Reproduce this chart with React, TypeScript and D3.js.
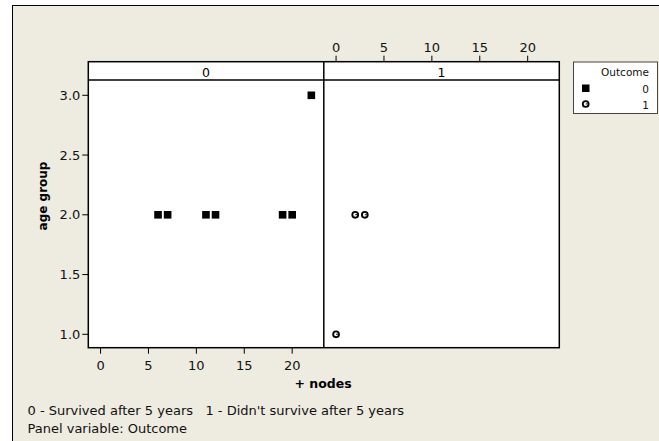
import React from 'react'
import * as d3 from 'd3'

// panel 0 = Outcome 0 (survived), panel 1 = Outcome 1
const panels = ['0', '1']
const nodes0 = [6, 7, 11, 12, 19, 20, 22]
const age0 = [2, 2, 2, 2, 2, 2, 3]
const nodes1 = [2, 3, 0]
const age1 = [2, 2, 1]
const xTicks = [0, 5, 10, 15, 20]
const yTicks = [1.0, 1.5, 2.0, 2.5, 3.0]
const footLines = ["0 - Survived after 5 years   1 - Didn't survive after 5 years", 'Panel variable: Outcome']

const W = 659
const H = 441
const font = '"DejaVu Sans", Verdana, sans-serif'
const bg = '#eeebe1'

const Circ = ({ x, y }: { x: number; y: number }) => (
	<g>
		<circle cx={x} cy={y} r={2.9} fill="white" stroke="black" strokeWidth={1.9} />
		<line x1={x} y1={y} x2={x + 1.8} y2={y - 0.2} stroke="black" strokeWidth={1} />
	</g>
)

export default function App() {
	const left = 88.3
	const pw = 235.5
	const stripTop = 61.7
	const plotTop = 80
	const plotBottom = 347.7

	const xs = panels.map((_, i) =>
		d3.scaleLinear().domain([-1.28, 23.3]).range([left + i * pw, left + (i + 1) * pw])
	)
	const y = d3.scaleLinear().domain([1, 3]).range([334.3, 95.3])

	const x0 = xs[0]
	const x1 = xs[1]

	return (
		<svg width={W} height={H} style={{ position: 'absolute', left: 0, top: 0 }} fontFamily={font}>
			<rect x={0} y={0} width={W} height={H} fill="white" />
			<rect x={12.5} y={5.5} width={W} height={H} fill={bg} stroke="black" strokeWidth={1} />

			{/* panels */}
			{panels.map((p, i) => (
				<g key={p}>
					<rect x={left + i * pw} y={stripTop} width={pw} height={plotBottom - stripTop} fill="white" />
					<text x={left + i * pw + pw / 2} y={76.5} fontSize={12.5} textAnchor="middle">
						{p}
					</text>
				</g>
			))}
			<rect
				x={left}
				y={stripTop}
				width={pw * 2}
				height={plotBottom - stripTop}
				fill="none"
				stroke="black"
				strokeWidth={1.5}
			/>
			<line x1={left} x2={left + 2 * pw} y1={plotTop} y2={plotTop} stroke="black" strokeWidth={1.5} />
			<line x1={left + pw} x2={left + pw} y1={stripTop} y2={plotBottom} stroke="black" strokeWidth={1.5} />

			{/* y axis */}
			{yTicks.map(t => (
				<g key={t}>
					<line x1={left - 6} x2={left} y1={y(t)} y2={y(t)} stroke="black" strokeWidth={1} />
					<text x={left - 8} y={y(t)} dy="0.36em" fontSize={13} textAnchor="end" fill="#111">
						{t.toFixed(1)}
					</text>
				</g>
			))}

			{/* bottom axis, panel 0 */}
			{xTicks.map(t => (
				<g key={'b' + t}>
					<line x1={x0(t)} x2={x0(t)} y1={plotBottom} y2={plotBottom + 6} stroke="black" strokeWidth={1} />
					<text x={x0(t)} y={370} fontSize={13} textAnchor="middle" fill="#111">
						{t}
					</text>
				</g>
			))}

			{/* top axis, panel 1 */}
			{xTicks.map(t => (
				<g key={'t' + t}>
					<line x1={x1(t)} x2={x1(t)} y1={stripTop - 6} y2={stripTop} stroke="black" strokeWidth={1} />
					<text x={x1(t)} y={51.5} fontSize={13} textAnchor="middle" fill="#111">
						{t}
					</text>
				</g>
			))}

			{/* points */}
			{nodes0.map((n, i) => (
				<rect key={'s' + i} x={x0(n) - 3.8} y={y(age0[i]) - 3.8} width={7.6} height={7.6} fill="black" />
			))}
			{nodes1.map((n, i) => (
				<Circ key={'c' + i} x={x1(n)} y={y(age1[i])} />
			))}

			{/* axis titles */}
			<text x={323} y={387.5} fontSize={12.5} fontWeight="bold" textAnchor="middle">
				+ nodes
			</text>
			<text
				transform={`translate(47, 196) rotate(-90)`}
				fontSize={12}
				fontWeight="bold"
				textAnchor="middle"
			>
				age group
			</text>

			{/* legend */}
			<rect x={573.5} y={62} width={84} height={51.5} fill="white" stroke="#444" strokeWidth={1} />
			<text x={649} y={76} fontSize={10.5} textAnchor="end" fill="#111">
				Outcome
			</text>
			<rect x={582} y={84.5} width={7.5} height={7.5} fill="black" />
			<text x={649} y={92.5} fontSize={10.5} textAnchor="end" fill="#111">
				0
			</text>
			<Circ x={585.7} y={104} />
			<text x={649} y={108.5} fontSize={10.5} textAnchor="end" fill="#111">
				1
			</text>

			{/* footnote */}
			{footLines.map((l, i) => (
				<text key={i} x={27.5} y={415 + i * 18} fontSize={13} fill="#111" style={{ whiteSpace: 'pre' }}>
					{l}
				</text>
			))}
		</svg>
	)
}
